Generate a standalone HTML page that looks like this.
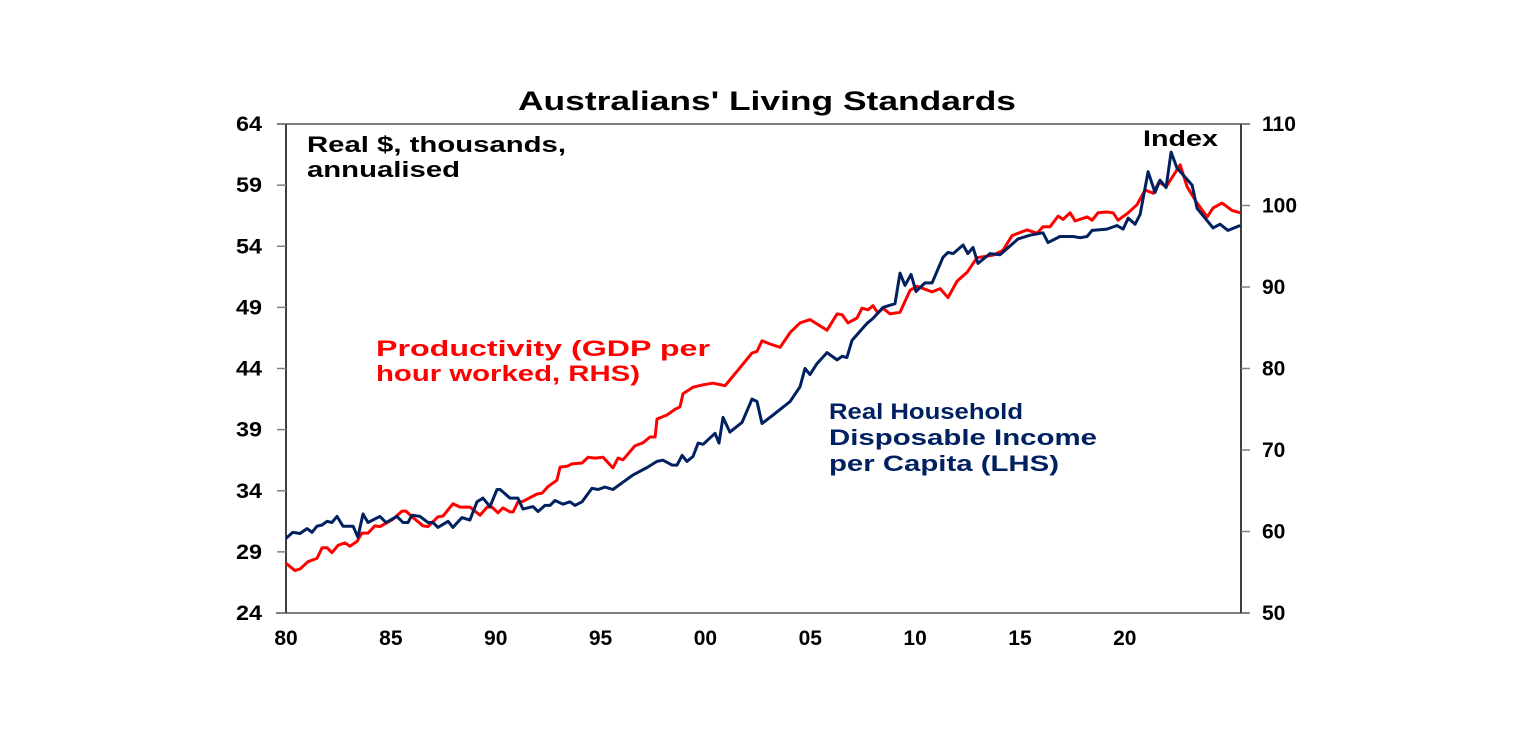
<!DOCTYPE html>
<html><head><meta charset="utf-8">
<style>
html,body{margin:0;padding:0;background:#fff;}
svg text{font-family:"Liberation Sans",Arial,sans-serif;font-weight:bold;}
</style></head>
<body>
<svg width="1536" height="737" viewBox="0 0 1536 737" xmlns="http://www.w3.org/2000/svg">
<rect width="1536" height="737" fill="#fff"/>
<text x="518" y="110" font-size="27" fill="#000" textLength="498" lengthAdjust="spacingAndGlyphs">Australians' Living Standards</text>
<g id="axes"></g>
<g id="series"></g>
<text x="307" y="152" font-size="22" fill="#000" textLength="259" lengthAdjust="spacingAndGlyphs">Real $, thousands,</text>
<text x="307" y="177" font-size="22" fill="#000" textLength="153" lengthAdjust="spacingAndGlyphs">annualised</text>
<text x="1143" y="146" font-size="22" fill="#000" textLength="75" lengthAdjust="spacingAndGlyphs">Index</text>
<text x="376" y="356" font-size="22" fill="#ff0000" textLength="334" lengthAdjust="spacingAndGlyphs">Productivity (GDP per</text>
<text x="376" y="381" font-size="22" fill="#ff0000" textLength="264" lengthAdjust="spacingAndGlyphs">hour worked, RHS)</text>
<text x="829" y="419" font-size="22" fill="#002060" textLength="194" lengthAdjust="spacingAndGlyphs">Real Household</text>
<text x="829" y="445" font-size="22" fill="#002060" textLength="268" lengthAdjust="spacingAndGlyphs">Disposable Income</text>
<text x="829" y="471" font-size="22" fill="#002060" textLength="230" lengthAdjust="spacingAndGlyphs">per Capita (LHS)</text>
</svg>
<script>
const leftTicks=[24,29,34,39,44,49,54,59,64];
const rightTicks=[50,60,70,80,90,100,110];
const xTickYears=[1980,1985,1990,1995,2000,2005,2010,2015,2020];
const xTickLabels=["80","85","90","95","00","05","10","15","20"];
const incomeDates=[1980.00,1980.33,1980.67,1981.00,1981.24,1981.48,1981.72,1981.96,1982.19,1982.43,1982.72,1983.20,1983.43,1983.67,1983.91,1984.48,1984.77,1985.29,1985.58,1985.82,1986.01,1986.39,1986.77,1987.01,1987.25,1987.73,1987.96,1988.39,1988.77,1989.11,1989.39,1989.73,1990.06,1990.21,1990.68,1991.06,1991.30,1991.78,1992.02,1992.35,1992.59,1992.83,1993.21,1993.54,1993.78,1994.12,1994.59,1994.88,1995.21,1995.59,1996.07,1996.55,1997.22,1997.69,1997.98,1998.41,1998.65,1998.89,1999.12,1999.41,1999.65,1999.89,2000.46,2000.65,2000.84,2001.17,2001.75,2002.22,2002.46,2002.70,2003.23,2004.04,2004.51,2004.75,2004.99,2005.32,2005.80,2006.28,2006.52,2006.75,2006.99,2007.71,2007.99,2008.47,2009.04,2009.28,2009.52,2009.81,2010.04,2010.47,2010.81,2011.33,2011.57,2011.81,2012.29,2012.52,2012.76,2013.00,2013.57,2014.05,2014.91,2015.48,2016.10,2016.34,2016.91,2017.53,2017.87,2018.20,2018.44,2019.15,2019.63,2019.92,2020.16,2020.49,2020.73,2021.11,2021.44,2021.68,2021.97,2022.21,2022.49,2023.21,2023.45,2024.21,2024.54,2024.92,2025.50];
const incomeValues=[30.1,30.6,30.5,30.9,30.6,31.1,31.2,31.5,31.4,31.9,31.1,31.1,30.2,32.1,31.4,31.9,31.4,31.9,31.4,31.4,32.0,31.9,31.4,31.4,31.0,31.5,31.0,31.8,31.6,33.1,33.4,32.7,34.1,34.1,33.4,33.4,32.5,32.7,32.3,32.8,32.8,33.2,32.9,33.1,32.8,33.1,34.2,34.1,34.3,34.1,34.7,35.3,35.9,36.4,36.5,36.1,36.1,36.9,36.4,36.8,37.9,37.8,38.7,37.9,40.0,38.8,39.6,41.5,41.3,39.5,40.2,41.3,42.5,44.0,43.5,44.4,45.3,44.7,45.0,44.9,46.3,47.7,48.1,49.0,49.3,51.8,50.8,51.7,50.3,51.0,51.0,53.1,53.5,53.4,54.1,53.4,53.9,52.6,53.4,53.3,54.6,54.9,55.1,54.3,54.8,54.8,54.7,54.8,55.3,55.4,55.7,55.4,56.3,55.8,56.6,60.1,58.4,59.4,58.8,61.7,60.4,59.0,57.1,55.5,55.8,55.3,55.7];
const prodDates=[1980.00,1980.43,1980.67,1981.05,1981.48,1981.72,1981.96,1982.19,1982.48,1982.81,1983.05,1983.39,1983.62,1983.91,1984.24,1984.48,1985.10,1985.53,1985.72,1986.06,1986.53,1986.77,1987.25,1987.49,1987.96,1988.30,1988.77,1989.25,1989.59,1989.82,1990.11,1990.35,1990.68,1990.83,1991.06,1991.30,1991.97,1992.21,1992.49,1992.92,1993.07,1993.40,1993.64,1994.12,1994.40,1994.74,1995.12,1995.59,1995.83,1996.07,1996.64,1997.03,1997.36,1997.60,1997.69,1998.17,1998.55,1998.79,1998.93,1999.41,1999.89,2000.36,2000.94,2001.17,2001.65,2002.22,2002.46,2002.70,2003.08,2003.56,2004.04,2004.51,2004.99,2005.80,2006.28,2006.52,2006.80,2007.23,2007.47,2007.76,2007.99,2008.23,2008.47,2008.80,2009.28,2009.76,2010.09,2010.81,2011.19,2011.57,2012.00,2012.48,2012.95,2013.72,2014.19,2014.62,2015.34,2015.82,2016.10,2016.44,2016.82,2017.06,2017.39,2017.63,2018.20,2018.44,2018.72,2019.15,2019.44,2019.68,2020.16,2020.58,2020.97,2021.35,2021.63,2021.97,2022.64,2022.97,2023.45,2023.93,2024.21,2024.64,2025.11,2025.50];
const prodValues=[56.1,55.2,55.4,56.3,56.7,58.0,58.0,57.4,58.3,58.6,58.2,58.8,59.8,59.8,60.7,60.6,61.5,62.5,62.5,61.7,60.7,60.6,61.8,61.9,63.4,63.0,63.0,62.0,63.0,63.0,62.3,62.9,62.4,62.4,63.6,63.7,64.6,64.7,65.5,66.3,67.9,68.0,68.3,68.4,69.1,69.0,69.1,67.8,69.0,68.8,70.5,70.9,71.6,71.6,73.8,74.3,75.0,75.3,76.9,77.7,78.0,78.2,77.9,78.6,80.1,81.9,82.1,83.4,83.0,82.6,84.4,85.6,86.0,84.7,86.7,86.6,85.6,86.2,87.4,87.2,87.7,86.8,87.4,86.7,86.9,89.6,90.1,89.4,89.8,88.7,90.7,91.8,93.6,93.9,94.5,96.3,97.0,96.6,97.4,97.4,98.7,98.3,99.1,98.1,98.6,98.2,99.1,99.2,99.1,98.2,99.1,100.1,101.9,101.5,102.9,102.3,105.0,102.3,100.3,98.6,99.7,100.3,99.4,99.1];

const NS="http://www.w3.org/2000/svg";
const L=286,R=1241,T=124,B=613;
const x0=1980,x1=1980+(R-L)/20.97;
function xs(t){return L+(t-x0)/(x1-x0)*(R-L);}
function yl(v){return B-(v-24)/(64-24)*(B-T);}
function yr(v){return B-(v-50)/(110-50)*(B-T);}
function mk(tag,attrs){const e=document.createElementNS(NS,tag);for(const k in attrs)e.setAttribute(k,attrs[k]);return e;}
const axes=document.getElementById('axes');
const series=document.getElementById('series');

let e=mk('line',{x1:L-9,y1:T,x2:R+9,y2:T,stroke:'#808080','stroke-width':2});


axes.appendChild(e);
e=mk('line',{x1:L-10,y1:B,x2:R+8,y2:B,stroke:'#808080','stroke-width':2});


axes.appendChild(e);
e=mk('line',{x1:L,y1:T,x2:L,y2:B,stroke:'#000','stroke-width':1.5});


axes.appendChild(e);
e=mk('line',{x1:R,y1:T,x2:R,y2:B,stroke:'#000','stroke-width':1.5});


axes.appendChild(e);

leftTicks.forEach(v=>{
  const y=yl(v);
  const t=mk('line',{x1:L-9,y1:y,x2:L,y2:y,stroke:'#808080','stroke-width':1.5});
  
  
  axes.appendChild(t);
  const tx=mk('text',{x:262,y:y+7,'text-anchor':'end','font-size':21,fill:'#000',textLength:26,lengthAdjust:'spacingAndGlyphs'});
  tx.textContent=v;
  
  
  axes.appendChild(tx);
});
rightTicks.forEach(v=>{
  const y=yr(v);
  const t=mk('line',{x1:R,y1:y,x2:R+9,y2:y,stroke:'#808080','stroke-width':1.5});
  
  
  axes.appendChild(t);
  const tx=mk('text',{x:1262,y:y+7,'text-anchor':'start','font-size':21,fill:'#000'});
  tx.textContent=v;
  
  
  axes.appendChild(tx);
});
xTickYears.forEach((yv,i)=>{
  const x=xs(yv);
  const tx=mk('text',{x:x,y:645,'text-anchor':'middle','font-size':21,fill:'#000'});
  tx.textContent=xTickLabels[i];
  
  
  axes.appendChild(tx);
});

let d=prodDates.map((t,i)=>(i?'L':'M')+xs(t).toFixed(1)+','+yr(prodValues[i]).toFixed(1)).join('');
let p=mk('path',{d:d,fill:'none',stroke:'#ff0000','stroke-width':3,'stroke-linejoin':'round'});


series.appendChild(p);
d=incomeDates.map((t,i)=>(i?'L':'M')+xs(t).toFixed(1)+','+yl(incomeValues[i]).toFixed(1)).join('');
p=mk('path',{d:d,fill:'none',stroke:'#002060','stroke-width':3,'stroke-linejoin':'round'});


series.appendChild(p);
</script>
</body></html>
